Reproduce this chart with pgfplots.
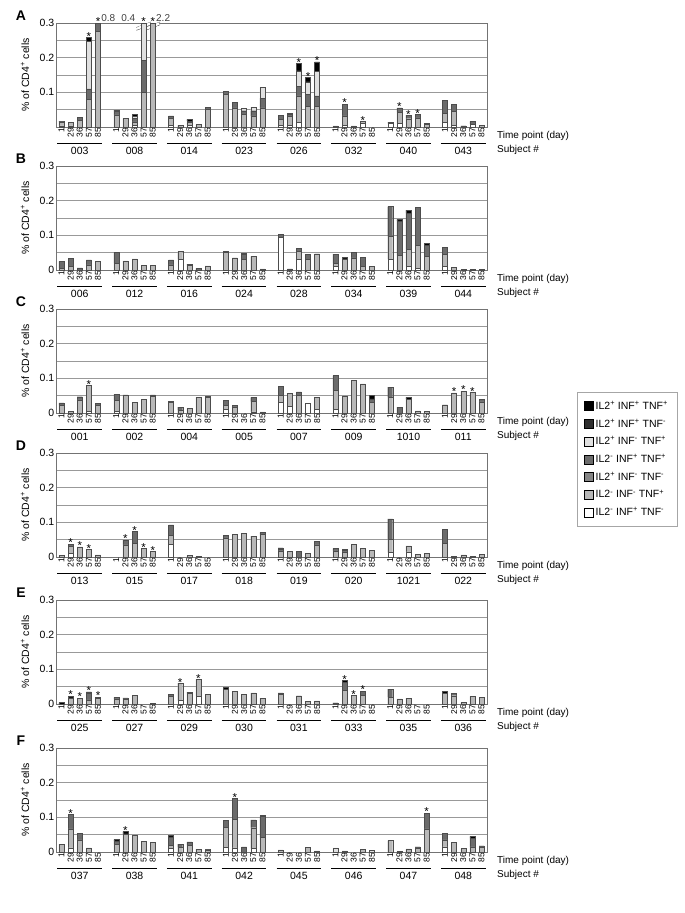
\documentclass[border=0pt]{standalone}
\usepackage{fontspec}
\setmainfont{Liberation Sans}
\usepackage{pgfplots}
\pgfplotsset{compat=1.18}
\usepackage{pgfplotstable}

\definecolor{cB}{gray}{0}
\definecolor{cK}{gray}{0.18}
\definecolor{cV}{gray}{0.88}
\definecolor{cD}{gray}{0.42}
\definecolor{cM}{gray}{0.52}
\definecolor{cL}{gray}{0.72}
\definecolor{cW}{gray}{1}
\newcommand\fs[1]{\fontsize{#1}{#1}\selectfont}

% columns: x, the 7 cell populations (bottom to top), st = 1 where a star is shown
\pgfplotstableread{
x  w    L    M D    V    K    B    st
0  .003 .012 0 .002 0    0    0    0
1  .003 .011 0 0    0    0    0    0
2  0    .020 0 .008 0    0    0    0
3  0    .080 0 .030 .137 0    .012 1
4  0    .275 0 .025 0    0    0    1
6  0    .035 0 .010 0    .004 0    0
7  0    .025 0 0    0    0    0    0
8  .005 .010 0 .010 .005 0    .007 0
9  0    .100 0 .093 .107 0    0    1
10 0    .300 0 0    0    0    0    1
12 .005 .020 0 .007 0    0    0    0
13 0    .005 0 0    0    0    0    0
14 .005 .008 0 0    .004 0    .005 0
15 0    .007 0 0    0    0    0    0
16 0    .050 0 .007 0    0    0    0
18 0    .094 0 .008 0    0    0    0
19 0    .055 0 .016 0    0    0    0
20 0    .037 0 .010 .006 0    0    0
21 0    .032 0 .015 .010 0    0    0
22 0    .055 0 .028 .031 0    0    0
24 .005 .018 0 .010 0    0    0    0
25 .005 .025 0 .006 0    .003 0    0
26 .013 .077 0 .027 .045 0    .022 1
27 0    .060 0 .035 .035 0    .013 1
28 0    .060 0 .030 .070 0    .028 1
30 0    .003 0 0    0    0    0    0
31 .005 .027 0 .034 0    0    0    1
32 0    .003 0 0    0    0    0    0
33 .010 .006 0 0    0    0    0    1
34 0    0    0 0    0    0    0    0
36 .010 .004 0 0    0    0    0    0
37 .010 .032 0 .013 0    0    0    1
38 0    .024 0 .010 0    0    0    1
39 0    .026 0 .010 0    0    0    1
40 0    .008 0 .003 0    0    0    0
42 .013 .027 0 .037 0    0    0    0
43 .005 .040 0 .020 0    0    0    0
44 0    0    0 0    0    0    .003 0
45 .008 0    0 .008 0    0    0    0
46 0    .005 0 0    0    0    0    0
}\tA

\pgfplotstableread{
x  w    L    M D    V    K    B    st
0  0    .005 0 .020 0    0    0    0
1  0    .010 0 .024 0    0    0    0
2  0    0    0 .006 0    0    0    0
3  0    .015 0 .014 0    0    0    0
4  0    .025 0 0    0    0    0    0
6  0    .020 0 .031 0    0    0    0
7  0    .026 0 0    0    0    0    0
8  0    .032 0 0    0    0    0    0
9  0    .014 0 0    0    0    0    0
10 0    .014 0 0    0    0    0    0
12 0    .015 0 .014 0    0    0    0
13 .030 .023 0 0    0    0    0    0
14 0    .013 0 .004 0    0    0    0
15 0    0    0 .005 0    0    0    0
16 0    .012 0 0    0    0    0    0
18 0    .050 0 .003 0    0    0    0
19 0    .033 0 .002 0    0    0    0
20 0    .030 0 .015 0    .004 0    0
21 0    .039 0 0    0    0    0    0
22 0    .003 0 0    0    0    0    0
24 .095 0    0 .008 0    0    0    0
25 0    0    0 .003 0    0    0    0
26 .030 .023 0 .010 0    0    0    0
27 0    .030 0 .016 0    0    0    0
28 0    .047 0 0    0    0    0    0
30 .010 .010 0 .026 0    0    0    0
31 0    .032 0 0    0    0    .004 0
32 0    .035 0 .016 0    0    0    0
33 0    .010 0 .026 0    0    0    0
34 0    .010 0 0    0    0    0    0
36 .031 .067 0 .085 0    0    0    0
37 0    .043 0 .099 0    0    .004 0
38 .010 .050 0 .104 0    0    .009 0
39 .005 .066 0 .109 0    0    0    0
40 0    .040 0 .032 0    0    .004 0
42 .010 .035 0 .021 0    0    0    0
43 0    .008 0 0    0    0    0    0
44 0    .002 0 0    0    0    0    0
45 0    .002 0 0    0    0    0    0
46 0    .002 0 0    0    0    0    0
}\tB

\pgfplotstableread{
x  w    L    M D    V    K    B    st
0  0    .022 0 .007 0    0    0    0
1  0    .005 0 0    0    0    0    0
2  0    .038 0 .009 0    0    0    0
3  .005 .075 0 0    0    0    0    1
4  0    .022 0 .005 0    0    0    0
6  .005 .032 0 .017 0    0    0    0
7  0    .050 0 .002 0    0    0    0
8  0    .031 0 0    0    0    0    0
9  0    .039 0 0    0    0    0    0
10 0    .049 0 .003 0    0    0    0
12 0    .030 0 .003 0    0    0    0
13 0    .008 0 .009 0    0    0    0
14 0    .013 0 0    0    0    0    0
15 0    .045 0 0    0    0    0    0
16 0    .045 0 0    0    0    .004 0
18 .010 .013 0 .013 0    0    0    0
19 0    .018 0 .004 0    0    0    0
20 0    0    0 0    0    0    0    0
21 .003 .030 0 .012 0    0    0    0
22 0    .003 0 0    0    0    0    0
24 .030 .020 0 .026 0    0    0    0
25 .020 .036 0 0    0    0    0    0
26 0    .050 0 .011 0    0    0    0
27 .028 0    0 0    0    0    0    0
28 .010 .036 0 0    0    0    0    0
30 .010 .055 0 .043 0    0    0    0
31 0    .049 0 0    0    0    0    0
32 0    .094 0 0    0    0    0    0
33 0    .084 0 0    0    0    0    0
34 0    .030 0 .011 0    0    .010 0
36 0    .045 0 .030 0    0    0    0
37 0    0    0 .017 0    0    0    0
38 0    .040 0 0    0    0    .005 0
39 0    .006 0 0    0    0    0    0
40 0    .005 0 0    0    0    0    0
42 0    .024 0 0    0    0    0    0
43 0    .058 0 0    0    0    0    1
44 0    .063 0 0    0    0    0    1
45 0    .060 0 0    0    0    0    1
46 0    .032 0 .007 0    0    0    0
}\tC

\pgfplotstableread{
x  w    L    M D    V    K    B    st
0  0    .005 0 0    0    0    0    0
1  .010 .020 0 .007 0    0    0    1
2  0    .029 0 0    0    0    0    1
3  0    .022 0 0    0    0    0    1
4  0    .006 0 0    0    0    0    0
6  0    0    0 0    0    0    0    0
7  0    .035 0 .014 0    0    0    1
8  0    .040 0 .034 0    0    0    1
9  0    .025 0 0    0    0    0    1
10 0    .016 0 0    0    0    0    1
12 .037 .026 0 .030 0    0    0    0
13 0    0    0 0    0    0    0    0
14 0    .004 0 0    0    0    0    0
15 0    .001 0 0    0    0    0    0
16 0    0    0 0    0    0    0    0
18 0    .055 0 .008 0    0    0    0
19 0    .066 0 0    0    0    0    0
20 0    .068 0 0    0    0    0    0
21 0    .060 0 0    0    0    0    0
22 0    .066 0 .005 0    0    0    0
24 0    .018 0 .005 0    0    .003 0
25 0    .017 0 0    0    0    0    0
26 0    0    0 .016 0    0    0    0
27 0    .011 0 0    0    0    0    0
28 0    .035 0 .011 0    0    0    0
30 0    .018 0 .007 0    0    0    0
31 0    .015 0 .004 0    0    .003 0
32 0    .036 0 0    0    0    0    0
33 0    .025 0 0    0    0    0    0
34 0    .019 0 0    0    0    0    0
36 .013 .037 0 .060 0    0    0    0
37 0    0    0 0    0    0    0    0
38 .015 .017 0 0    0    0    0    0
39 0    .008 0 0    0    0    0    0
40 0    .010 0 0    0    0    0    0
42 0    .040 0 .039 0    0    0    0
43 0    .001 0 0    0    0    0    0
44 0    .006 0 0    0    0    0    0
45 0    .001 0 0    0    0    0    0
46 0    .007 0 0    0    0    0    0
}\tD

\pgfplotstableread{
x  w    L    M D    V    K    B    st
0  0    0    0 0    0    0    .004 0
1  0    .018 0 0    0    0    .005 1
2  0    .017 0 0    0    0    0    1
3  0    .012 0 .018 0    0    .005 1
4  0    .016 0 .004 0    0    0    1
6  0    .015 0 .004 0    0    0    0
7  0    .015 0 .003 0    0    0    0
8  0    .025 0 0    0    0    0    0
9  0    0    0 0    0    0    0    0
10 0    .001 0 0    0    0    0    0
12 0    .022 0 .005 0    0    0    0
13 .010 .050 0 0    0    0    0    1
14 0    .030 0 .004 0    0    0    0
15 .022 .049 0 0    0    0    0    1
16 0    .027 0 0    0    0    0    0
18 0    .043 0 0    0    0    .006 0
19 0    .037 0 0    0    0    0    0
20 0    .028 0 0    0    0    0    0
21 0    .032 0 0    0    0    0    0
22 0    .017 0 0    0    0    0    0
24 0    .028 0 .004 0    0    0    0
25 0    0    0 0    0    0    0    0
26 0    .024 0 0    0    0    0    0
27 0    .007 0 0    0    0    0    0
28 0    .009 0 0    0    0    0    0
30 0    0    0 0    0    0    .003 0
31 0    .040 0 .022 0    0    .006 1
32 0    .025 0 0    0    0    0    1
33 0    .025 0 .012 0    0    0    1
34 0    0    0 0    0    0    0    0
36 0    .020 0 .023 0    0    0    0
37 0    .015 0 0    0    0    0    0
38 0    .017 0 0    0    0    0    0
39 0    0    0 0    0    0    0    0
40 0    0    0 0    0    0    0    0
42 0    .030 0 0    0    0    .007 0
43 0    .024 0 .007 0    0    0    0
44 0    .005 0 0    0    0    0    0
45 0    .022 0 0    0    0    0    0
46 0    .019 0 0    0    0    0    0
}\tE

\pgfplotstableread{
x  w    L    M D    V    K    B    st
0  0    .023 0 0    0    0    0    0
1  .012 .055 0 .041 0    0    0    1
2  0    .035 0 .019 0    0    0    0
3  0    .012 0 0    0    0    0    0
4  0    0    0 0    0    0    0    0
6  0    .022 0 .010 0    0    .004 0
7  0    .052 0 0    0    0    .007 1
8  0    .049 0 0    0    0    0    0
9  0    .031 0 0    0    0    0    0
10 0    .027 0 0    0    0    0    0
12 .010 .010 0 .024 0    0    .004 0
13 0    .014 0 .009 0    0    0    0
14 0    .020 0 .009 0    0    0    0
15 0    .008 0 0    0    0    0    0
16 0    .006 0 .002 0    0    0    0
18 .014 .058 0 .020 0    0    0    0
19 .012 .082 0 .061 0    0    0    1
20 0    0    0 .015 0    0    0    0
21 .010 .060 0 .023 0    0    0    0
22 0    .042 0 .060 .004 0    0    0
24 0    .006 0 0    0    0    0    0
25 0    0    0 0    0    0    0    0
26 0    0    0 0    0    0    0    0
27 0    .014 0 0    0    0    0    0
28 0    .003 0 0    0    0    0    0
30 0    0    0 0    .012 0    0    0
31 0    .003 0 0    0    0    0    0
32 0    0    0 0    0    0    0    0
33 0    .008 0 0    0    0    0    0
34 0    0    0 0    .004 0    0    0
36 0    .033 0 0    0    0    0    0
37 0    .001 0 0    0    0    0    0
38 0    .009 0 0    0    0    0    0
39 0    .012 0 0    0    0    .003 0
40 0    .067 0 .045 0    0    0    1
42 .015 .020 0 .019 0    0    0    0
43 0    .028 0 0    0    0    0    0
44 0    .010 0 0    0    0    0    0
45 0    .015 0 .025 0    0    .005 0
46 0    .015 0 0    0    0    .003 0
}\tF

\pgfplotsset{
  frame/.style={
    scale only axis, width=431pt, height=104pt, anchor=north west,
    xmin=-0.6, xmax=46.6, ymin=0, ymax=0.3, clip=false,
  },
  panel/.style={
    frame, ybar stacked, bar width=0.55,
    xtick={0,1,2,3,4,6,7,8,9,10,12,13,14,15,16,18,19,20,21,22,24,25,26,27,28,30,31,32,33,34,36,37,38,39,40,42,43,44,45,46},
    xticklabels={1,29,36,57,85,1,29,36,57,85,1,29,36,57,85,1,29,36,57,85,1,29,36,57,85,1,29,36,57,85,1,29,36,57,85,1,29,36,57,85},
    xticklabel style={rotate=90, anchor=east, font=\fs{8.5}, inner sep=1pt},
    ytick={0,0.1,0.2,0.3}, minor ytick={0.05,0.15,0.25},
    ymajorgrids, yminorgrids,
    grid style={black!40, line width=0.5pt},
    minor grid style={black!40, line width=0.5pt},
    major tick length=0pt, minor tick length=0pt,
    yticklabel style={font=\fs{10.5}, inner sep=1.5pt},
    /pgf/number format/assume math mode=true,
    axis line style={black!55, line width=0.5pt},
    ylabel={\% of CD4\textsuperscript{+} cells},
    ylabel style={at={(axis description cs:-0.072,0.5)}, anchor=center, font=\fs{10.5}},
    legend image code/.code={\draw[##1, draw=black, line width=0.4pt] (0pt,-4.5pt) rectangle (9pt,4.5pt);},
  },
  starax/.style={frame, hide axis},
}

\newcommand\bars[1]{%
  \addplot[fill=cW, draw=black!70, line width=0.35pt] table[x=x,y=w]{#1};
  \addplot[fill=cL, draw=black!70, line width=0.35pt] table[x=x,y=L]{#1};
  \addplot[fill=cM, draw=black!70, line width=0.35pt] table[x=x,y=M]{#1};
  \addplot[fill=cD, draw=black!70, line width=0.35pt] table[x=x,y=D]{#1};
  \addplot[fill=cV, draw=black!70, line width=0.35pt] table[x=x,y=V]{#1};
  \addplot[fill=cK, draw=black!70, line width=0.35pt] table[x=x,y=K]{#1};
  \addplot[fill=cB, draw=black!70, line width=0.35pt] table[x=x,y=B]{#1};
}

% significance stars, placed on top of each flagged bar
\newcommand\stars[2]{%
  \begin{axis}[starax, at={#1}]
  \addplot[only marks, mark=text, text mark={*}, text mark as node=true,
    text mark style={font=\fs{11.5}, anchor=south, inner sep=0pt, yshift=-3pt},
    restrict expr to domain={\thisrow{st}}{0.5:1.5}]
    table[x=x, y expr=\thisrow{w}+\thisrow{L}+\thisrow{M}+\thisrow{D}+\thisrow{V}+\thisrow{K}+\thisrow{B}]{#2};
  \end{axis}
}

\newcommand\subj[2]{%
  \draw[line width=1.6pt] ([yshift=-16.5pt]axis cs:6*#1-0.45,0) -- ([yshift=-16.5pt]axis cs:6*#1+4.45,0);
  \node[anchor=north, font=\fs{10.5}, inner sep=0pt] at ([yshift=-19.5pt]axis cs:6*#1+2,0) {#2};
}

\newcommand\deco[1]{%
  \node[font=\bfseries\fs{14}] at ([xshift=-35pt,yshift=7pt]rel axis cs:0,1) {#1};
  \node[anchor=west, font=\fs{10}, inner sep=0pt] at ([xshift=10pt,yshift=-9pt]rel axis cs:1,0) {Time point (day)};
  \node[anchor=west, font=\fs{10}, inner sep=0pt] at ([xshift=10pt,yshift=-23pt]rel axis cs:1,0) {Subject \#};
}

\begin{document}
\begin{tikzpicture}
\useasboundingbox (0,0) rectangle (685pt,-913pt);

% ---------------- A
\begin{axis}[panel, at={(56pt,-23pt)}, ytick={0.1,0.2,0.3}]
\bars{\tA}
\deco{A}
\subj{0}{003}\subj{1}{008}\subj{2}{014}\subj{3}{023}\subj{4}{026}\subj{5}{032}\subj{6}{040}\subj{7}{043}
\node[anchor=west, font=\fs{10}, inner sep=0pt, text=black!75] at ([yshift=5pt]axis cs:4.35,0.3) {0.8};
\node[anchor=east, font=\fs{10}, inner sep=0pt, text=black!75] at ([yshift=5pt]axis cs:8.1,0.3) {0.4};
\node[anchor=west, font=\fs{10}, inner sep=0pt, text=black!75] at ([yshift=5pt]axis cs:10.35,0.3) {2.2};
\fill[white] (axis cs:8.3,0.281) -- (axis cs:9.7,0.295) -- (axis cs:9.7,0.302) -- (axis cs:8.3,0.288) -- cycle;
\draw[black!75, line width=0.5pt] (axis cs:8.2,0.279) -- (axis cs:9.8,0.295) (axis cs:8.2,0.287) -- (axis cs:9.8,0.303);
\fill[white] (axis cs:9.3,0.281) -- (axis cs:10.7,0.295) -- (axis cs:10.7,0.302) -- (axis cs:9.3,0.288) -- cycle;
\draw[black!75, line width=0.5pt] (axis cs:9.2,0.279) -- (axis cs:10.8,0.295) (axis cs:9.2,0.287) -- (axis cs:10.8,0.303);
\end{axis}
\stars{(56pt,-23pt)}{\tA}

% ---------------- B
\begin{axis}[panel, at={(56pt,-166pt)}]
\bars{\tB}
\deco{B}
\subj{0}{006}\subj{1}{012}\subj{2}{016}\subj{3}{024}\subj{4}{028}\subj{5}{034}\subj{6}{039}\subj{7}{044}
\end{axis}

% ---------------- C (carries the legend)
\begin{axis}[panel, at={(56pt,-309pt)}, reverse legend,
  legend style={at={(1.209,0.202)}, anchor=north west, draw=black!35, font=\fs{10.5},
    row sep=4pt, inner xsep=7pt, inner ysep=7pt, cells={anchor=west}}]
\bars{\tC}
\legend{IL2\textsuperscript{-} INF\textsuperscript{+} TNF\textsuperscript{-},
        IL2\textsuperscript{-} INF\textsuperscript{-} TNF\textsuperscript{+},
        IL2\textsuperscript{+} INF\textsuperscript{-} TNF\textsuperscript{-},
        IL2\textsuperscript{-} INF\textsuperscript{+} TNF\textsuperscript{+},
        IL2\textsuperscript{+} INF\textsuperscript{-} TNF\textsuperscript{+},
        IL2\textsuperscript{+} INF\textsuperscript{+} TNF\textsuperscript{-},
        IL2\textsuperscript{+} INF\textsuperscript{+} TNF\textsuperscript{+}}
\deco{C}
\subj{0}{001}\subj{1}{002}\subj{2}{004}\subj{3}{005}\subj{4}{007}\subj{5}{009}\subj{6}{1010}\subj{7}{011}
\end{axis}
\stars{(56pt,-309pt)}{\tC}

% ---------------- D
\begin{axis}[panel, at={(56pt,-453pt)}]
\bars{\tD}
\deco{D}
\subj{0}{013}\subj{1}{015}\subj{2}{017}\subj{3}{018}\subj{4}{019}\subj{5}{020}\subj{6}{1021}\subj{7}{022}
\end{axis}
\stars{(56pt,-453pt)}{\tD}

% ---------------- E
\begin{axis}[panel, at={(56pt,-600pt)}]
\bars{\tE}
\deco{E}
\subj{0}{025}\subj{1}{027}\subj{2}{029}\subj{3}{030}\subj{4}{031}\subj{5}{033}\subj{6}{035}\subj{7}{036}
\end{axis}
\stars{(56pt,-600pt)}{\tE}

% ---------------- F
\begin{axis}[panel, at={(56pt,-748pt)}]
\bars{\tF}
\deco{F}
\subj{0}{037}\subj{1}{038}\subj{2}{041}\subj{3}{042}\subj{4}{045}\subj{5}{046}\subj{6}{047}\subj{7}{048}
\end{axis}
\stars{(56pt,-748pt)}{\tF}
\end{tikzpicture}
\end{document}
